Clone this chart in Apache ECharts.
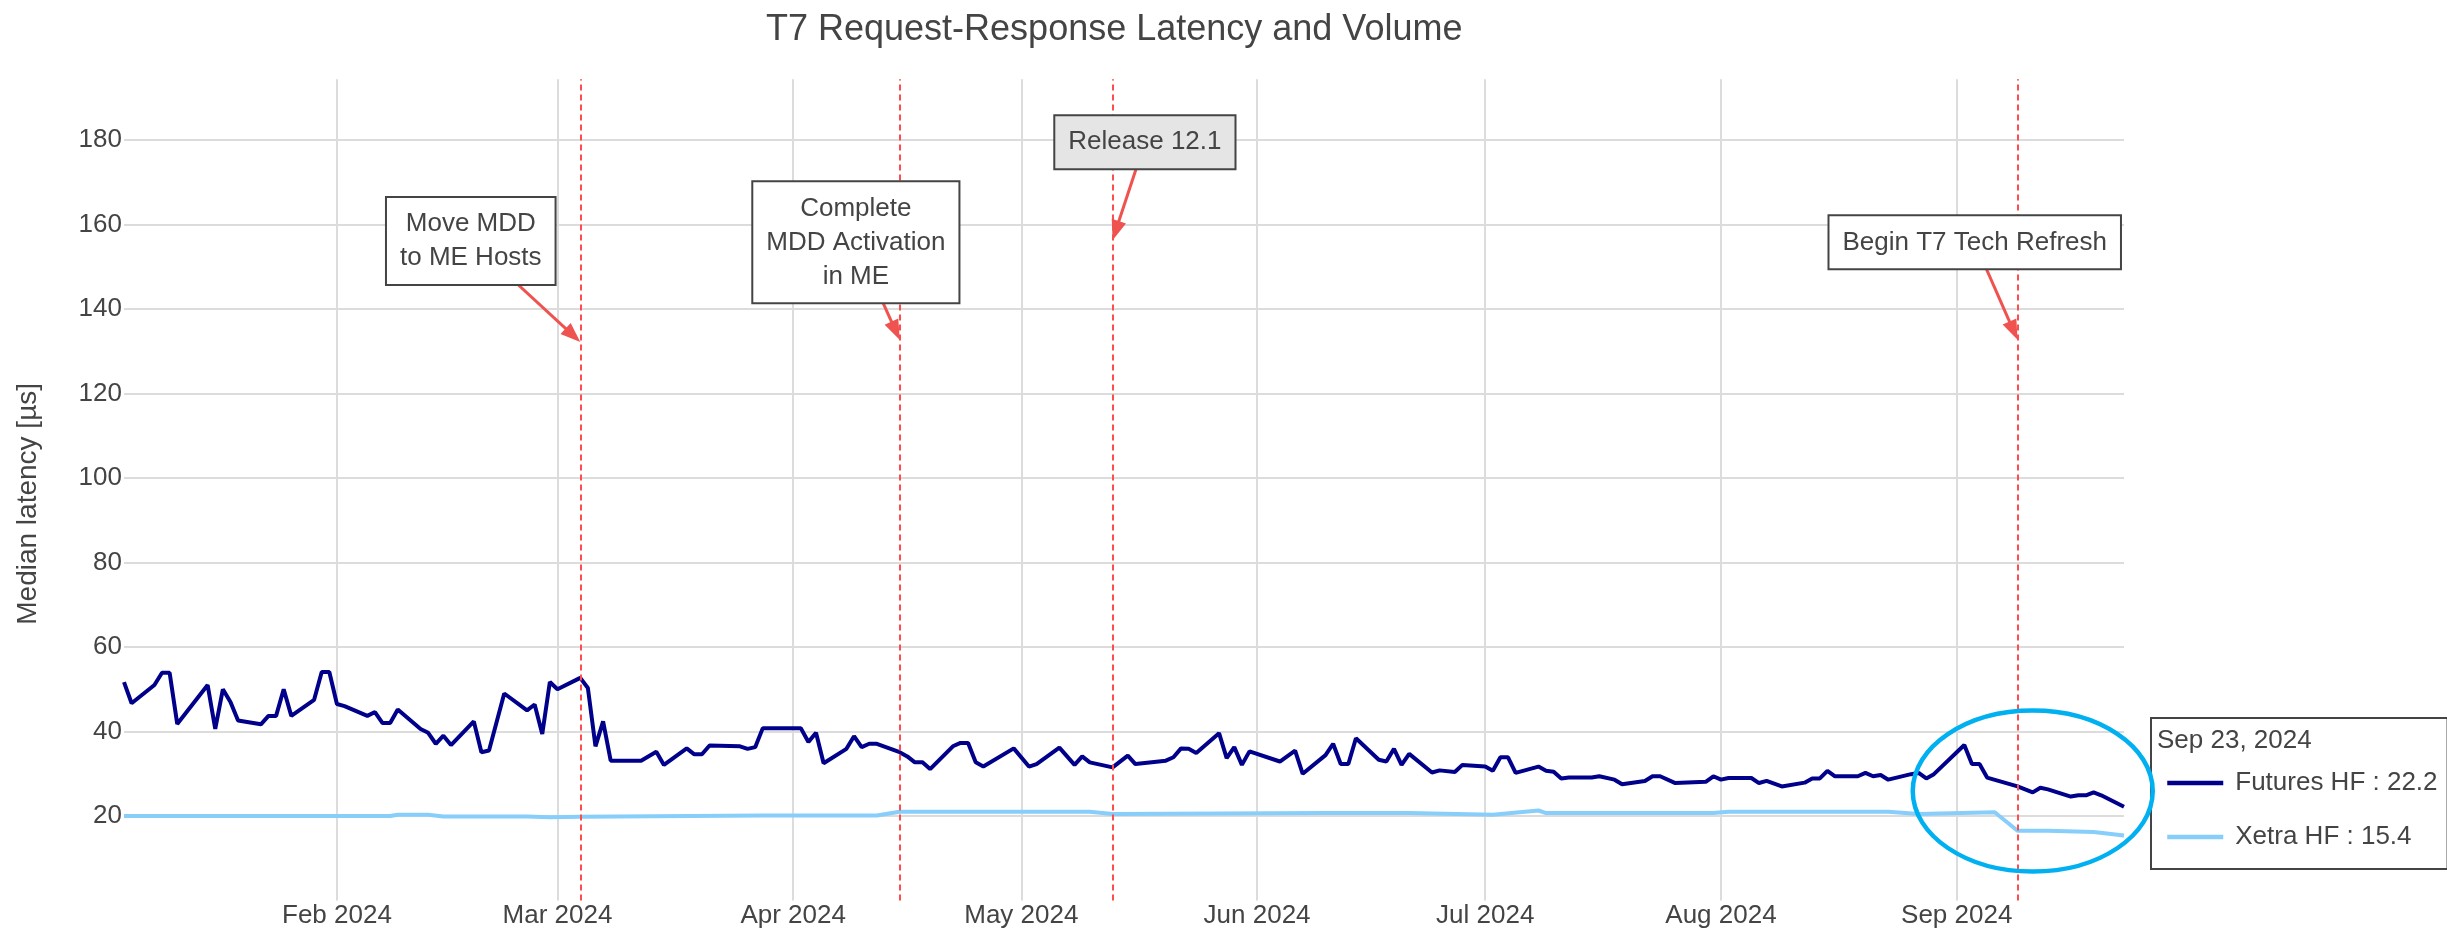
<!DOCTYPE html>
<html><head><meta charset="utf-8">
<script src="https://cdn.jsdelivr.net/npm/echarts@6/dist/echarts.min.js"></script>
<style>html,body{margin:0;padding:0;background:#fff}#chart{width:2447px;height:932px}</style>
</head><body><div id="chart"></div>
<script>
// ---------------- DATA ----------------
const chartTitle = 'T7 Request-Response Latency and Volume';
const yAxisTitle = 'Median latency [µs]';
const seriesNames = ['Futures HF', 'Xetra HF'];
const monthNames = ['Jan','Feb','Mar','Apr','May','Jun','Jul','Aug','Sep','Oct','Nov','Dec'];

const futuresDates = [
 '2024-01-04','2024-01-05','2024-01-08','2024-01-09','2024-01-10','2024-01-11','2024-01-15','2024-01-16','2024-01-17','2024-01-18',
 '2024-01-19','2024-01-22','2024-01-23','2024-01-24','2024-01-25','2024-01-26','2024-01-29','2024-01-30','2024-01-31','2024-02-01',
 '2024-02-02','2024-02-05','2024-02-06','2024-02-07','2024-02-08','2024-02-09','2024-02-12','2024-02-13','2024-02-14','2024-02-15',
 '2024-02-16','2024-02-19','2024-02-20','2024-02-21','2024-02-23','2024-02-26','2024-02-27','2024-02-28','2024-02-29','2024-03-01',
 '2024-03-04','2024-03-05','2024-03-06','2024-03-07','2024-03-08','2024-03-12','2024-03-14','2024-03-15','2024-03-18','2024-03-19',
 '2024-03-20','2024-03-21','2024-03-25','2024-03-26','2024-03-27','2024-03-28','2024-04-02','2024-04-03','2024-04-04','2024-04-05',
 '2024-04-08','2024-04-09','2024-04-10','2024-04-11','2024-04-12','2024-04-15','2024-04-16','2024-04-17','2024-04-18','2024-04-19',
 '2024-04-22','2024-04-23','2024-04-24','2024-04-25','2024-04-26','2024-04-30','2024-05-02','2024-05-03','2024-05-06','2024-05-08',
 '2024-05-09','2024-05-10','2024-05-13','2024-05-15','2024-05-16','2024-05-20','2024-05-21','2024-05-22','2024-05-23','2024-05-24',
 '2024-05-27','2024-05-28','2024-05-29','2024-05-30','2024-05-31','2024-06-04','2024-06-06','2024-06-07','2024-06-10','2024-06-11',
 '2024-06-12','2024-06-13','2024-06-14','2024-06-17','2024-06-18','2024-06-19','2024-06-20','2024-06-21','2024-06-24','2024-06-25',
 '2024-06-27','2024-06-28','2024-07-01','2024-07-02','2024-07-03','2024-07-04','2024-07-05','2024-07-08','2024-07-09','2024-07-10',
 '2024-07-11','2024-07-12','2024-07-15','2024-07-16','2024-07-18','2024-07-19','2024-07-22','2024-07-23','2024-07-24','2024-07-26',
 '2024-07-30','2024-07-31','2024-08-01','2024-08-02','2024-08-05','2024-08-06','2024-08-07','2024-08-09','2024-08-12','2024-08-13',
 '2024-08-14','2024-08-15','2024-08-16','2024-08-19','2024-08-20','2024-08-21','2024-08-22','2024-08-23','2024-08-26','2024-08-27',
 '2024-08-28','2024-08-29','2024-09-02','2024-09-03','2024-09-04','2024-09-05','2024-09-09','2024-09-10','2024-09-11','2024-09-12',
 '2024-09-13','2024-09-16','2024-09-17','2024-09-18','2024-09-19','2024-09-20','2024-09-23'
];
const futuresValues = [
 51.7,46.7,51.0,53.9,53.9,41.8,51.0,40.6,50.0,47.0,
 42.6,41.7,43.7,43.7,50.0,43.7,47.5,54.1,54.1,46.5,
 46.0,43.7,44.6,42.0,42.0,45.2,40.6,39.7,37.1,39.0,
 36.8,42.4,35.1,35.5,49.0,45.0,46.4,39.4,51.7,50.0,
 52.7,50.3,36.5,42.4,33.1,33.1,35.2,32.1,36.0,34.6,
 34.6,36.7,36.5,35.9,36.3,40.8,40.8,37.5,39.7,32.5,
 35.9,38.9,36.3,37.1,37.1,35.1,34.1,32.7,32.7,31.1,
 36.5,37.3,37.3,32.7,31.7,36.0,31.7,32.3,36.2,32.1,
 34.1,32.7,31.5,34.3,32.3,33.1,33.9,36.0,35.9,34.9,
 39.6,33.7,36.3,32.1,35.3,32.9,35.5,30.0,34.4,37.1,
 32.3,32.3,38.4,33.3,32.9,35.9,32.1,34.7,30.3,30.8,
 30.4,32.1,31.7,30.7,33.9,33.9,30.2,31.7,30.7,30.5,
 28.9,29.1,29.1,29.4,28.6,27.5,28.3,29.4,29.4,27.8,
 28.1,29.4,28.6,29.0,29.0,27.8,28.3,27.0,27.9,28.9,
 28.9,30.7,29.4,29.4,30.2,29.4,29.7,28.6,29.9,30.2,
 28.9,29.9,36.8,32.3,32.3,29.1,27.0,26.3,25.6,26.7,
 26.3,24.6,24.9,24.9,25.6,24.9,22.2
];
const xetraDates = [
 '2024-01-04','2024-02-08','2024-02-09','2024-02-13','2024-02-15','2024-02-26','2024-02-29','2024-03-04','2024-03-28','2024-04-12',
 '2024-04-15','2024-05-10','2024-05-13','2024-06-10','2024-06-21','2024-07-02','2024-07-08','2024-07-09','2024-07-31','2024-08-02',
 '2024-08-23','2024-08-27','2024-09-06','2024-09-09','2024-09-13','2024-09-19','2024-09-23'
];
const xetraValues = [
 20.0,20.0,20.3,20.3,19.9,19.9,19.7,19.8,20.1,20.1,
 21.0,21.0,20.5,20.7,20.7,20.3,21.3,20.7,20.7,21.0,
 21.0,20.5,20.9,16.5,16.5,16.2,15.4
];
const eventDates = ['2024-03-04','2024-04-15','2024-05-13','2024-09-09'];
const eventLabels = ['Move MDD\nto ME Hosts','Complete\nMDD Activation\nin ME','Release 12.1','Begin T7 Tech Refresh'];
const eventArrowValues = [132.2, 132.7, 156.3, 132.7];
const highlightCenter = ['2024-09-11', 25.9];

// ---------------- LAYOUT / STYLE ----------------
const FONT = '"Liberation Sans", Arial, sans-serif';
const ts = s => +new Date(s + 'T00:00:00');
const boxOffsets = [[-109.5,-101],[-43.8,-97.5],[32.3,-98],[-42.8,-97.5]];
const boxFills = ['#ffffff','#ffffff','#e5e5e5','#ffffff'];
const lastDate = new Date(ts(futuresDates[futuresDates.length-1]));
const legendTitle = monthNames[lastDate.getMonth()] + ' ' + lastDate.getDate() + ', ' + lastDate.getFullYear();
const lastVals = {};
lastVals[seriesNames[0]] = futuresValues[futuresValues.length-1];
lastVals[seriesNames[1]] = xetraValues[xetraValues.length-1];

const chart = echarts.init(document.getElementById('chart'), null, {renderer: 'canvas'});
const option = {
  animation: false,
  backgroundColor: '#ffffff',
  textStyle: {fontFamily: FONT},
  title: [
    {text: chartTitle, left: 766, top: 12, padding: 0,
     textStyle: {fontSize: 36, fontWeight: 'normal', color: '#444', fontFamily: FONT}},
    {text: legendTitle, left: 2157, top: 728, padding: 0, z: 10,
     textStyle: {fontSize: 26, fontWeight: 'normal', color: '#444', fontFamily: FONT}}
  ],
  grid: {left: 124, right: 323, top: 79.2, bottom: 31.5, containLabel: false},
  legend: {
    orient: 'vertical', left: 2151, top: 718, z: 4,
    padding: [52, 10, 19, 14],
    itemWidth: 56, itemHeight: 26, itemGap: 28,
    borderColor: '#444', borderWidth: 2, backgroundColor: '#ffffff',
    itemStyle: {opacity: 0, borderWidth: 0},
    lineStyle: {width: 4.5},
    textStyle: {fontSize: 26, color: '#444', padding: [0,0,0,7], fontFamily: FONT},
    formatter: name => name + ' : ' + lastVals[name],
    data: seriesNames
  },
  xAxis: {
    type: 'time',
    min: ts(futuresDates[0]), max: ts(futuresDates[futuresDates.length-1]),
    minInterval: 28*86400000, maxInterval: 31*86400000,
    axisLine: {show: false}, axisTick: {show: false},
    splitLine: {show: true, showMinLine: false, showMaxLine: false, lineStyle: {color: '#dcdcdc', width: 2}},
    axisLabel: {
      fontSize: 26, color: '#444', margin: 2, fontFamily: FONT,
      showMinLabel: false, showMaxLabel: false,
      formatter: v => { const d = new Date(v); return d.getDate() === 1 ? monthNames[d.getMonth()] + ' ' + d.getFullYear() : ''; }
    }
  },
  yAxis: {
    type: 'value', min: 0, max: 194.4, interval: 20,
    axisLine: {show: false}, axisTick: {show: false},
    splitLine: {show: true, showMinLine: false, showMaxLine: false, lineStyle: {color: '#dcdcdc', width: 2}},
    axisLabel: {fontSize: 26, color: '#444', margin: 2, showMinLabel: false, showMaxLabel: false, fontFamily: FONT},
    name: yAxisTitle, nameLocation: 'middle', nameGap: 82, nameRotate: 90,
    nameTextStyle: {fontSize: 28, color: '#444', fontFamily: FONT, padding: [0, 28, 0, 0]}
  },
  series: [
    {
      name: seriesNames[0], type: 'line', z: 3, symbol: 'none', showSymbol: false,
      lineStyle: {color: '#00008b', width: 4}, itemStyle: {color: '#00008b'},
      data: futuresDates.map((d, i) => [ts(d), futuresValues[i]])
    },
    {
      name: seriesNames[1], type: 'line', z: 4, symbol: 'none', showSymbol: false,
      lineStyle: {color: '#87cefa', width: 4}, itemStyle: {color: '#87cefa'},
      data: xetraDates.map((d, i) => [ts(d), xetraValues[i]]),
      markLine: {
        silent: true, symbol: ['none','none'], label: {show: false},
        lineStyle: {color: '#ff4d4d', type: [6,4], width: 2},
        data: eventDates.map(d => ({xAxis: ts(d)}))
      }
    }
  ]
};
chart.setOption(option);

// annotations (anchored to data coordinates)
const graphics = [];
eventDates.forEach((d, i) => {
  const tip = chart.convertToPixel({gridIndex: 0}, [ts(d), eventArrowValues[i]]);
  const cx = tip[0] + boxOffsets[i][0], cy = tip[1] + boxOffsets[i][1];
  const dx = tip[0] - cx, dy = tip[1] - cy, len = Math.hypot(dx, dy);
  const ux = dx/len, uy = dy/len, nx = -uy, ny = ux;
  const L = 20, W = 7.5;
  graphics.push({type: 'line', z: 50, silent: true,
    shape: {x1: cx, y1: cy, x2: tip[0] - ux*L*0.6, y2: tip[1] - uy*L*0.6},
    style: {stroke: '#ef5350', lineWidth: 3}});
  graphics.push({type: 'polygon', z: 50, silent: true,
    shape: {points: [[tip[0], tip[1]], [tip[0]-ux*L+nx*W, tip[1]-uy*L+ny*W], [tip[0]-ux*L-nx*W, tip[1]-uy*L-ny*W]]},
    style: {fill: '#ef5350'}});
  graphics.push({type: 'text', z: 60, silent: true, x: cx, y: cy,
    style: {text: eventLabels[i], fill: '#444', font: '26px ' + FONT, align: 'center', verticalAlign: 'middle',
      lineHeight: 34, backgroundColor: boxFills[i], borderColor: '#444', borderWidth: 2, padding: [9, 13]}});
});
const ec = chart.convertToPixel({gridIndex: 0}, [ts(highlightCenter[0]), highlightCenter[1]]);
graphics.push({type: 'ellipse', z: 70, silent: true,
  shape: {cx: ec[0], cy: ec[1], rx: 120, ry: 80.5},
  style: {fill: 'none', stroke: '#00b0f0', lineWidth: 4.5}});
chart.setOption({graphic: graphics});
</script>
</body></html>
